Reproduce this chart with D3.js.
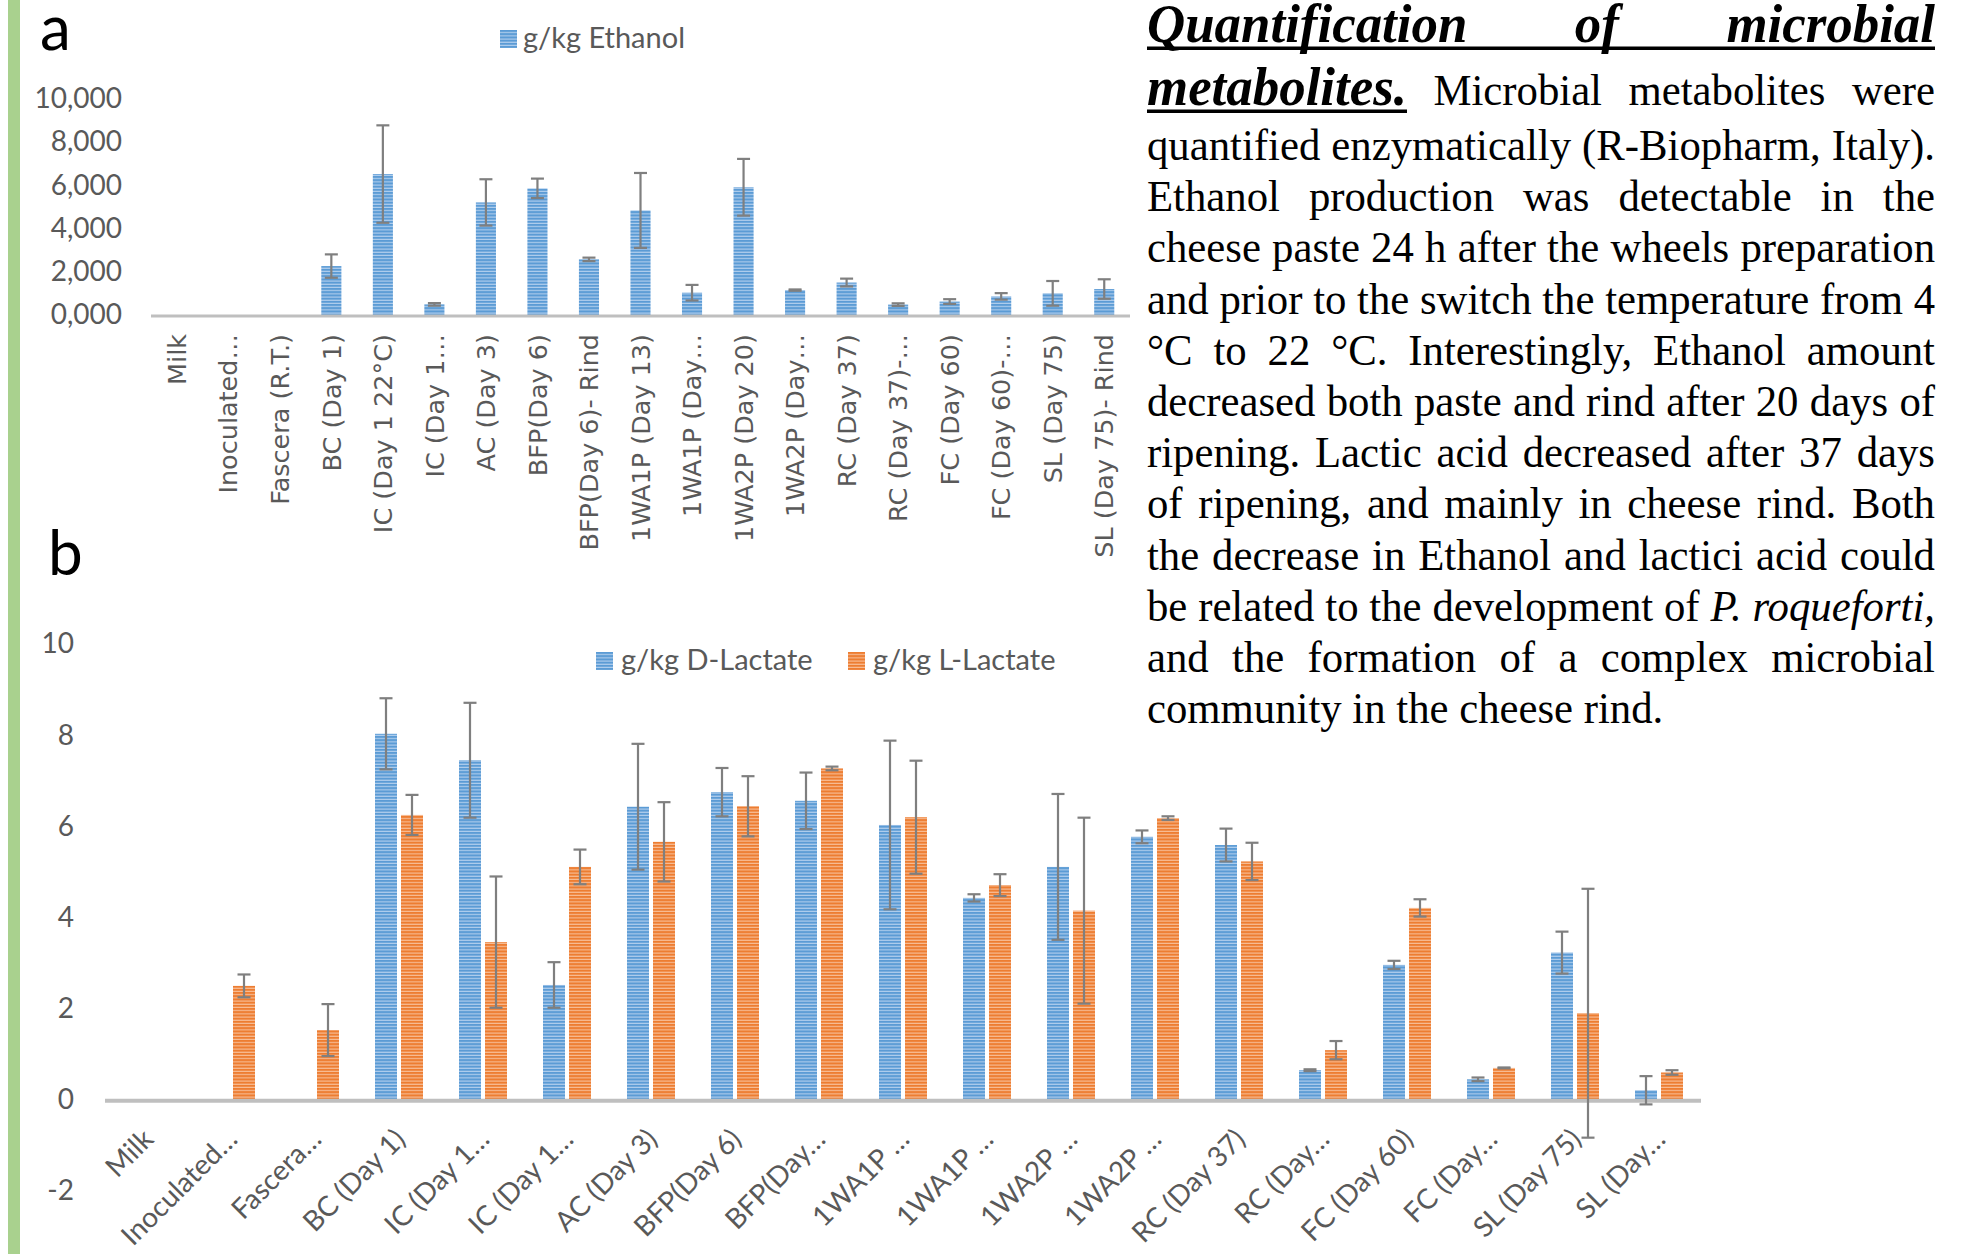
<!DOCTYPE html>
<html>
<head>
<meta charset="utf-8">
<script src="https://cdn.jsdelivr.net/npm/d3@7"></script>
<style>
  html, body { margin: 0; padding: 0; background: #ffffff; }
  svg { display: block; }
</style>
</head>
<body>
<svg id="fig" width="1981" height="1254"></svg>
<script>
// ---------- Panel a: ethanol (g/kg) ----------
const ethanolCategories = ["Milk", "Inoculated…", "Fascera (R.T.)", "BC (Day 1)", "IC (Day 1 22°C)",
  "IC (Day 1…", "AC (Day 3)", "BFP(Day 6)", "BFP(Day 6)- Rind", "1WA1P (Day 13)", "1WA1P (Day…",
  "1WA2P (Day 20)", "1WA2P (Day…", "RC (Day 37)", "RC (Day 37)-…", "FC (Day 60)", "FC (Day 60)-…",
  "SL (Day 75)", "SL (Day 75)- Rind"];
const ethanolValues = [null, null, null, 2.26, 6.51, 0.49, 5.20, 5.85, 2.57, 4.83, 1.03,
  5.90, 1.15, 1.50, 0.48, 0.62, 0.86, 1.00, 1.20];
const ethanolErrors = [null, null, null, 0.54, 2.25, 0.06, 1.07, 0.45, 0.08, 1.73, 0.36,
  1.31, 0.03, 0.18, 0.06, 0.11, 0.15, 0.57, 0.45];
const ethanolTicks = [0, 2, 4, 6, 8, 10];
const ethanolLegend = "g/kg Ethanol";

// ---------- Panel b: D- and L-lactate (g/kg) ----------
const lactateCategories = ["Milk", "Inoculated…", "Fascera…", "BC (Day 1)", "IC (Day 1…",
  "IC (Day 1…", "AC (Day 3)", "BFP(Day 6)", "BFP(Day…", "1WA1P …", "1WA1P …", "1WA2P …",
  "1WA2P …", "RC (Day 37)", "RC (Day…", "FC (Day 60)", "FC (Day…", "SL (Day 75)", "SL (Day…"];
const dLactateValues = [null, null, null, 8.03, 7.45, 2.52, 6.43, 6.75, 6.56, 6.03, 4.43,
  5.11, 5.77, 5.59, 0.65, 2.96, 0.45, 3.23, 0.21];
const dLactateErrors = [null, null, null, 0.78, 1.26, 0.50, 1.38, 0.53, 0.62, 1.85, 0.08,
  1.60, 0.14, 0.36, 0.02, 0.09, 0.04, 0.46, 0.31];
const lLactateValues = [null, 2.50, 1.53, 6.25, 3.46, 5.11, 5.66, 6.44, 7.27, 6.20, 4.71,
  4.15, 6.18, 5.23, 1.09, 4.21, 0.70, 1.90, 0.60];
const lLactateErrors = [null, 0.25, 0.57, 0.44, 1.44, 0.38, 0.87, 0.66, 0.04, 1.24, 0.24,
  2.04, 0.04, 0.41, 0.20, 0.19, 0.01, 2.73, 0.05];
const lactateTicks = [-2, 0, 2, 4, 6, 8, 10];
const lactateSeries = ["g/kg D-Lactate", "g/kg L-Lactate"];

// ---------- Accompanying paragraph ----------
// a word is either a plain string (regular) or a list of [text, style] runs
const paragraphLines = [
  [[["Quantification", "h"]], [["of", "h"]], [["microbial", "h"]]],
  [[["metabolites.", "h"]], "Microbial", "metabolites", "were"],
  "quantified enzymatically (R-Biopharm, Italy).",
  "Ethanol production was detectable in the",
  "cheese paste 24 h after the wheels preparation",
  "and prior to the switch the temperature from 4",
  "°C to 22 °C. Interestingly, Ethanol amount",
  "decreased both paste and rind after 20 days of",
  "ripening. Lactic acid decreased after 37 days",
  "of ripening, and mainly in cheese rind. Both",
  "the decrease in Ethanol and lactici acid could",
  ["be", "related", "to", "the", "development", "of", [["P.", "i"]], [["roqueforti,", "i"]]],
  "and the formation of a complex microbial",
  "community in the cheese rind."
];

const svg = d3.select("#fig");
const defs = svg.append("defs");
const GREY = "#595959";
const SANS = "Lato, 'Open Sans', sans-serif";

// horizontally striped fills
function stripePattern(id, base, light) {
  const p = defs.append("pattern").attr("id", id)
    .attr("patternUnits", "userSpaceOnUse").attr("width", 8).attr("height", 3.2);
  p.append("rect").attr("width", 8).attr("height", 3.2).attr("fill", base);
  p.append("rect").attr("y", 2.1).attr("width", 8).attr("height", 1.1).attr("fill", light);
}
stripePattern("stripeBlue", "#5b9bd5", "#b4d0ee");
stripePattern("stripeOrange", "#ed7d31", "#f8c09a");
const fills = ["url(#stripeBlue)", "url(#stripeOrange)"];

// page margin rule
svg.append("rect").attr("x", 8).attr("y", 0).attr("width", 12).attr("height", 1254).attr("fill", "#a9d18e");

function errorBar(g, x, y, v, e, cap) {
  const gg = g.append("g").attr("stroke", "#7f7f7f").attr("stroke-width", 2.2);
  gg.append("line").attr("x1", x).attr("x2", x).attr("y1", y(v + e)).attr("y2", y(v - e));
  gg.append("line").attr("x1", x - cap).attr("x2", x + cap).attr("y1", y(v + e)).attr("y2", y(v + e));
  gg.append("line").attr("x1", x - cap).attr("x2", x + cap).attr("y1", y(v - e)).attr("y2", y(v - e));
}

// ================= Panel a =================
{
  const g = svg.append("g");
  const x = d3.scaleBand().domain(d3.range(ethanolCategories.length))
    .range([151, 1130]).paddingInner(0.61).paddingOuter(0.305);
  const y = d3.scaleLinear().domain([0, 10]).range([315, 98.5]);
  const fmt = d3.formatLocale({ decimal: ",", thousands: ".", grouping: [3], currency: ["", "€"] }).format(".3f");

  g.append("text").attr("x", 40).attr("y", 50).attr("font-family", SANS)
    .attr("font-size", 62).attr("fill", "#000").text("a");

  g.append("g").attr("transform", "translate(122,0)")
    .call(d3.axisLeft(y).tickValues(ethanolTicks).tickSize(0).tickPadding(0).tickFormat(fmt))
    .call(a => a.select(".domain").remove())
    .selectAll("text").attr("font-family", SANS).attr("font-size", 28).attr("fill", GREY);

  const data = ethanolValues.map((v, i) => ({ i, v, e: ethanolErrors[i] })).filter(d => d.v != null);
  g.selectAll("rect.bar").data(data).join("rect").attr("class", "bar")
    .attr("x", d => x(d.i)).attr("width", x.bandwidth())
    .attr("y", d => y(d.v)).attr("height", d => y(0) - y(d.v))
    .attr("fill", fills[0]);

  g.append("line").attr("x1", 151).attr("x2", 1130).attr("y1", y(0) + 1).attr("y2", y(0) + 1)
    .attr("stroke", "#bfbfbf").attr("stroke-width", 3);

  data.forEach(d => errorBar(g, x(d.i) + x.bandwidth() / 2, y, d.v, d.e, 6.5));

  g.selectAll("text.cat").data(ethanolCategories).join("text").attr("class", "cat")
    .attr("transform", (d, i) => `translate(${x(i) + x.bandwidth() / 2},334) rotate(-90)`)
    .attr("text-anchor", "end").attr("dy", "0.36em")
    .attr("font-family", "'DejaVu Sans', Verdana, sans-serif").attr("font-size", 25.5)
    .attr("fill", GREY).text(d => d);

  // legend
  const lg = g.append("g").attr("transform", "translate(500,30)");
  lg.append("rect").attr("width", 17).attr("height", 18).attr("fill", fills[0]);
  lg.append("text").attr("x", 23).attr("y", 18).attr("font-family", SANS).attr("font-size", 29)
    .attr("fill", GREY).text(ethanolLegend);
}

// ================= Panel b =================
{
  const g = svg.append("g");
  const x0 = d3.scaleBand().domain(d3.range(lactateCategories.length))
    .range([105, 1701]).paddingInner(0.4286).paddingOuter(0.2143);
  const x1 = d3.scaleBand().domain([0, 1]).range([0, x0.bandwidth()]).paddingInner(0.1538);
  const y = d3.scaleLinear().domain([-2, 10]).range([1191, 644]);

  g.append("text").attr("x", 48).attr("y", 575).attr("font-family", SANS)
    .attr("font-size", 62).attr("fill", "#000").text("b");

  g.append("g").attr("transform", "translate(74,0)")
    .call(d3.axisLeft(y).tickValues(lactateTicks).tickSize(0).tickPadding(0).tickFormat(d => String(d)))
    .call(a => a.select(".domain").remove())
    .selectAll("text").attr("font-family", SANS).attr("font-size", 28).attr("fill", GREY);

  const series = [
    { k: 0, values: dLactateValues, errors: dLactateErrors },
    { k: 1, values: lLactateValues, errors: lLactateErrors }
  ];
  const data = [];
  series.forEach(s => s.values.forEach((v, i) => {
    if (v != null) data.push({ i, k: s.k, v, e: s.errors[i] });
  }));

  g.selectAll("rect.bar").data(data).join("rect").attr("class", "bar")
    .attr("x", d => x0(d.i) + x1(d.k)).attr("width", x1.bandwidth())
    .attr("y", d => y(Math.max(d.v, 0))).attr("height", d => Math.abs(y(0) - y(d.v)))
    .attr("fill", d => fills[d.k]);

  g.append("line").attr("x1", 105).attr("x2", 1701).attr("y1", y(0) + 1).attr("y2", y(0) + 1)
    .attr("stroke", "#bfbfbf").attr("stroke-width", 4);

  data.forEach(d => errorBar(g, x0(d.i) + x1(d.k) + x1.bandwidth() / 2, y, d.v, d.e, 6.5));

  g.selectAll("text.cat").data(lactateCategories).join("text").attr("class", "cat")
    .attr("transform", (d, i) => `translate(${x0(i) + x0.bandwidth() / 2 + 8},1141) rotate(-45)`)
    .attr("text-anchor", "end")
    .attr("font-family", SANS).attr("font-size", 28)
    .attr("fill", GREY).text(d => d);

  // legend
  const legendX = [596, 848];
  lactateSeries.forEach((name, k) => {
    const lg = g.append("g").attr("transform", `translate(${legendX[k]},652)`);
    lg.append("rect").attr("width", 17).attr("height", 18).attr("fill", fills[k]);
    lg.append("text").attr("x", 25).attr("y", 18).attr("font-family", SANS).attr("font-size", 29)
      .attr("fill", GREY).text(name);
  });
}

// ================= Paragraph =================
document.fonts.ready.then(() => {
  const LEFT = 1147, RIGHT = 1935, W = RIGHT - LEFT;
  const SERIF = "'Liberation Serif', 'Times New Roman', Times, serif";
  const styles = {
    h: { family: SERIF, size: 54, weight: "bold", style: "italic" },
    r: { family: SERIF, size: 44, weight: "normal", style: "normal" },
    i: { family: SERIF, size: 44, weight: "normal", style: "italic" }
  };
  const baselines = [42, 105, 160];
  for (let k = 3; k < paragraphLines.length; k++) baselines.push(160 + (k - 2) * 51.2);

  // words -> lists of runs
  const lines = paragraphLines.map(l => (typeof l === "string" ? l.split(" ") : l)
    .map(w => typeof w === "string" ? [[w, "r"]] : w));

  function fillRuns(sel, runs) {
    sel.selectAll("tspan").remove();
    runs.forEach(([t, st]) => {
      const s = styles[st];
      sel.append("tspan").attr("font-family", s.family).attr("font-size", s.size)
        .attr("font-weight", s.weight).attr("font-style", s.style).text(t);
    });
  }
  const probe = svg.append("text").attr("visibility", "hidden");
  function natural(runs) {
    fillRuns(probe, runs);
    return probe.node().getComputedTextLength();
  }

  // horizontal squeeze so the tightest justified body line exactly fills the column
  let sxR = Infinity;
  lines.forEach((l, k) => {
    if (k === lines.length - 1) return;
    if (l.some(w => w.some(r => r[1] === "h"))) return;
    const runs = [];
    l.forEach((w, j) => { if (j > 0) runs.push([" ", "r"]); runs.push(...w); });
    sxR = Math.min(sxR, W / natural(runs));
  });
  const sxH = 260 / natural([["metabolites.", "h"]]);
  const sx = { h: sxH, r: sxR, i: sxR };
  const spaceR = natural([["a a", "r"]]) - natural([["aa", "r"]]);

  const g = svg.append("g");
  lines.forEach((l, k) => {
    const widths = l.map(w => natural(w) * sx[w[0][1]]);
    const total = d3.sum(widths);
    const justify = k < lines.length - 1;
    const gap = justify ? (W - total) / (l.length - 1) : spaceR * sxR;
    let cx = LEFT;
    l.forEach((w, j) => {
      if (j > 0) cx += gap;
      const t = g.append("text").attr("x", cx).attr("y", baselines[k]).attr("fill", "#000")
        .attr("textLength", widths[j]).attr("lengthAdjust", "spacingAndGlyphs");
      fillRuns(t, w);
      if (k === 1 && j === 0) {
        g.append("rect").attr("x", LEFT).attr("y", 109.5).attr("width", widths[j]).attr("height", 3.5).attr("fill", "#000");
      }
      cx += widths[j];
    });
  });
  g.append("rect").attr("x", LEFT).attr("y", 46.5).attr("width", W).attr("height", 3.5).attr("fill", "#000");
  probe.remove();
});
</script>
</body>
</html>
